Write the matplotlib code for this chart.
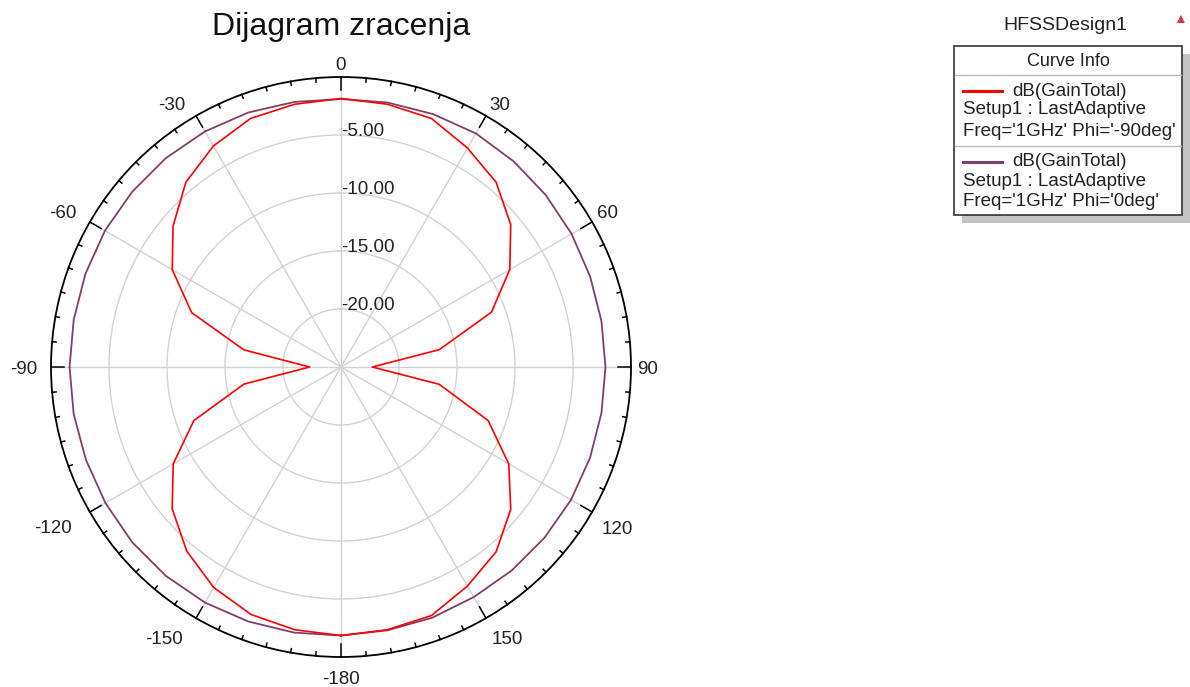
"""Polar radiation pattern (HFSS style) - Dijagram zracenja."""
import numpy as np
import matplotlib
matplotlib.use("Agg")
import matplotlib.pyplot as plt
from matplotlib.patches import Rectangle
from matplotlib.lines import Line2D
from matplotlib.transforms import offset_copy

plt.rcParams["font.family"] = ["Liberation Sans", "DejaVu Sans"]

W, H = 1190, 687

# theta in degrees, 0 at top, clockwise positive
theta_deg = list(range(-180, 181, 10))

# dB(GainTotal), Phi = -90deg
gain_phi_m90 = [-1.85, -2.0, -2.3, -3.05, -4.3, -6.0, -8.3, -11.5, -16.5,
                -22.3,
                -16.5, -11.3, -8.2, -6.1, -4.2, -3.0, -2.2, -2.0,
                -1.85,
                -2.0, -2.2, -3.2, -4.2, -5.9, -8.2, -11.2, -16.4,
                -22.3,
                -16.4, -11.5, -8.3, -5.9, -4.2, -3.2, -2.2, -2.0,
                -1.85]

# dB(GainTotal), Phi = 0deg
gain_phi_0 = [-1.85, -1.75, -1.65, -1.55, -1.5, -1.5, -1.55, -1.6, -1.6,
              -1.6,
              -1.6, -1.55, -1.5, -1.5, -1.5, -1.55, -1.65, -1.8,
              -1.9,
              -1.85, -1.8, -1.75, -1.85, -1.95, -2.05, -2.15, -2.2,
              -2.2,
              -2.2, -2.15, -2.1, -2.1, -2.1, -2.1, -2.0, -1.95,
              -1.85]

theta_ticks = [-180, -150, -120, -90, -60, -30, 0, 30, 60, 90, 120, 150]
r_ticks = [-20, -15, -10, -5]
r_labels = ["-20.00", "-15.00", "-10.00", "-5.00"]
R_MIN, R_MAX = -25, 0

RED = "#ff0000"
PURPLE = "#7e3f6c"
GRID = "#d2d2d2"
TXT = "#222222"


def fx(x):
    return x / W


def fy(y):
    return 1 - y / H


fig = plt.figure(figsize=(W / 100, H / 100), dpi=100)

# polar axes: centre (341, 367), radius 290 px
cx, cy, R = 341, 367, 290
ax = fig.add_axes([fx(cx - R), fy(cy + R), 2 * R / W, 2 * R / H],
                  projection="polar")
ax.set_theta_zero_location("N")
ax.set_theta_direction(-1)

th = np.deg2rad(theta_deg)
ax.plot(th, gain_phi_m90, color=RED, lw=1.2, zorder=4)
ax.plot(th, gain_phi_0, color=PURPLE, lw=1.3, zorder=3)

ax.set_xticks(np.deg2rad(np.mod(theta_ticks, 360)))
ax.set_xticklabels([])
ax.set_xlim(0, 2 * np.pi)
ax.set_rlim(R_MIN, R_MAX)
ax.tick_params(axis="x", which="major", length=0)

ax.set_yticks(r_ticks)
ax.set_yticklabels([])
ax.grid(True, color=GRID, lw=1.0)
ax.spines["polar"].set_color("black")
ax.spines["polar"].set_linewidth(1.3)

dB_per_px = (R_MAX - R_MIN) / R

# inward ticks on the outer ring: long every 30 deg, short every 5 deg
for a in range(0, 360, 5):
    n = 13 if a % 30 == 0 else 4
    ax.plot([np.deg2rad(a)] * 2, [R_MAX - n * dB_per_px, R_MAX],
            color="black", lw=1.1, zorder=6, clip_on=False)

# angle labels outside the ring, anchored by the corner nearest the ring
for t in theta_ticks:
    s, c = np.sin(np.deg2rad(t)), np.cos(np.deg2rad(t))
    ha = "left" if s > 0.01 else ("right" if s < -0.01 else "center")
    va = "bottom" if c > 0.01 else ("top" if c < -0.01 else "center")
    gap = 6 if c > -0.01 else 11
    dx = -8 if s < -0.01 else 0
    tr = offset_copy(ax.transData, fig=fig, x=dx, y=-3, units="dots")
    ax.text(np.deg2rad(t), R_MAX + gap * dB_per_px, str(t), ha=ha, va=va,
            transform=tr, fontsize=13.5, color=TXT, clip_on=False)

lab_tr = offset_copy(ax.transData, fig=fig, x=0, y=3, units="dots")
for r, lab in zip(r_ticks, r_labels):
    ax.text(0, r, lab, transform=lab_tr, ha="left", va="center",
            fontsize=13.5, color=TXT, zorder=5)

fig.text(fx(341), fy(27), "Dijagram zracenja", ha="center", va="center",
         fontsize=23, color="#111111")

# legend block (Curve Info)
fig.text(fx(1065), fy(25), "HFSSDesign1", ha="center", va="center",
         fontsize=14, color=TXT)
fig.text(fx(1180), fy(19), "\u25b2", ha="center", va="center",
         fontsize=10, color="#d04040")

bx0, by0, bx1, by1 = 954, 46, 1182, 215
fig.add_artist(Rectangle((fx(bx0 + 8), fy(by1 + 8)), (bx1 - bx0) / W,
                         (by1 - by0) / H, transform=fig.transFigure,
                         facecolor="#c4c4c4", edgecolor="none"))
fig.add_artist(Rectangle((fx(bx0), fy(by1)), (bx1 - bx0) / W,
                         (by1 - by0) / H, transform=fig.transFigure,
                         facecolor="white", edgecolor="#333333", lw=1.2))
for sy in (75, 146):
    fig.add_artist(Line2D([fx(bx0 + 1), fx(bx1 - 1)], [fy(sy), fy(sy)],
                          transform=fig.transFigure, color="#bbbbbb",
                          lw=1.0))
fig.text(fx(1068), fy(61), "Curve Info", ha="center", va="center",
         fontsize=13, color=TXT)

entries = [(RED, "'-90deg'", 91), (PURPLE, "'0deg'", 162)]
for col, phi, y0 in entries:
    fig.add_artist(Line2D([fx(963), fx(1002)], [fy(y0), fy(y0)],
                          transform=fig.transFigure, color=col, lw=2.2))
    fig.text(fx(1012), fy(y0), "dB(GainTotal)", ha="left", va="center",
             fontsize=13.5, color=TXT)
    fig.text(fx(963), fy(y0 + 19), "Setup1 : LastAdaptive", ha="left",
             va="center", fontsize=13.5, color=TXT)
    fig.text(fx(963), fy(y0 + 40), "Freq='1GHz' Phi=" + phi, ha="left",
             va="center", fontsize=13.5, color=TXT)

fig.savefig("out.png", dpi=100)
